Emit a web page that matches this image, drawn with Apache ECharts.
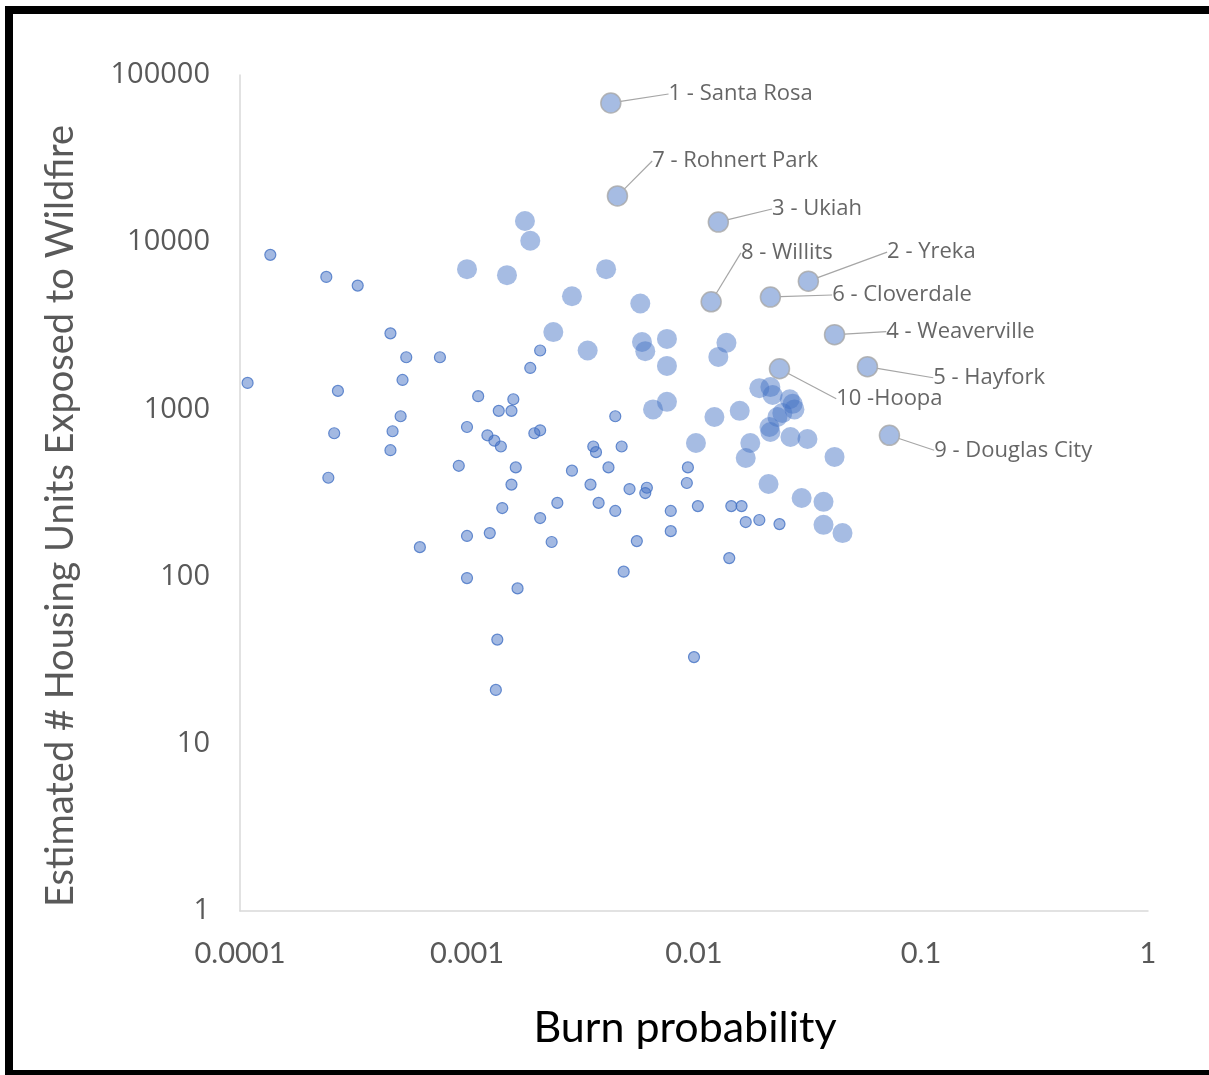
<!DOCTYPE html>
<html>
<head>
<meta charset="utf-8">
<title>Burn probability vs housing units</title>
<script src="https://cdn.jsdelivr.net/npm/echarts@6/dist/echarts.min.js"></script>
<style>
    html, body { margin: 0; padding: 0; background: #fff; }
    #main { width: 1209px; height: 1075px; }
</style>
</head>
<body>
<div id="main"></div>
<script>
    // tick labels
    var xTickLabels = ['0.0001', '0.001', '0.01', '0.1', '1'];
    var yTickLabels = ['1', '10', '100', '1000', '10000', '100000'];

    // small communities (small markers)
    var smallX = [0.000136, 0.00024, 0.00033, 0.00046, 0.00054, 0.00076, 0.0019, 0.000108, 0.00052, 0.00027,
        0.00112, 0.0016, 0.00138, 0.00157, 0.00051, 0.001, 0.00026, 0.00047, 0.00123, 0.00132,
        0.00141, 0.00046, 0.00092, 0.00164, 0.000245, 0.00157, 0.00143, 0.0021, 0.00198, 0.0021,
        0.0045, 0.0036, 0.0037, 0.0048, 0.0029, 0.0042, 0.0094, 0.0035, 0.0093, 0.0052,
        0.0062, 0.0061, 0.0025, 0.0038, 0.0021, 0.0045, 0.0079, 0.0104, 0.0146, 0.0162,
        0.0169, 0.0194, 0.0238, 0.001, 0.00126, 0.00236, 0.0056, 0.0079, 0.00062, 0.0143,
        0.001, 0.00167, 0.0049, 0.00136, 0.01, 0.00134];
    var smallY = [8400, 6200, 5500, 2850, 2050, 2050, 1770, 1440, 1500, 1290,
        1200, 1150, 980, 980, 910, 785, 720, 740, 700, 650,
        600, 570, 460, 450, 390, 355, 257, 2250, 720, 750,
        910, 600, 555, 600, 430, 450, 450, 355, 363, 334,
        340, 316, 276, 276, 224, 247, 247, 264, 264, 264,
        212, 218, 206, 175, 182, 161, 163, 187, 150, 129,
        98, 85, 107, 42, 33, 21];

    // larger communities (big markers)
    var bigX = [0.0018, 0.0019, 0.001, 0.0015, 0.0041, 0.0029, 0.0058, 0.0024, 0.0034, 0.0059,
        0.0061, 0.0076, 0.0076, 0.0139, 0.0128, 0.0066, 0.0076, 0.0102, 0.0123, 0.0159,
        0.0177, 0.0169, 0.0213, 0.0194, 0.0217, 0.0222, 0.0264, 0.0272, 0.0277, 0.0245,
        0.0233, 0.0215, 0.0217, 0.0266, 0.0316, 0.0416, 0.0298, 0.0372, 0.0372, 0.0451];
    var bigY = [13400, 10200, 6900, 6350, 6900, 4750, 4300, 2900, 2250, 2530,
        2230, 2640, 1820, 2500, 2060, 1000, 1110, 630, 900, 980,
        630, 512, 358, 1340, 1360, 1220, 1150, 1080, 1000, 950,
        900, 785, 733, 684, 665, 520, 295, 280, 204, 182];

    // top 10 named communities
    var cityNames = ['1 - Santa Rosa', '7 - Rohnert Park', '3 - Ukiah', '8 - Willits', '2 - Yreka',
        '6 - Cloverdale', '4 - Weaverville', '5 - Hayfork', '10 -Hoopa', '9 - Douglas City'];
    var cityX = [0.0043, 0.0046, 0.0128, 0.0119, 0.0319, 0.0217, 0.0416, 0.0581, 0.0238, 0.0726];
    var cityY = [68000, 18900, 13200, 4400, 5850, 4700, 2800, 1800, 1750, 700];

    // label offsets (px) from the marker
    var labelOffsets = [[47, -9], [24, -35], [43, -13], [19, -49], [68, -29],
        [51, -2], [41, -3], [55, 11], [46, 30], [34, 15]];

    function pairs(xs, ys){
        var arr = [];
        for(var i = 0; i < xs.length; i++){
            arr.push([xs[i], ys[i]]);
        }
        return arr;
    }

    var cityData = [];
    for(var i = 0; i < cityNames.length; i++){
        cityData.push({name: cityNames[i], value: [cityX[i], cityY[i]]});
    }

    var myChart = echarts.init(document.getElementById('main'));
    var option = {
        animation: false,
        backgroundColor: '#fff',
        grid: {
            left: 240,
            right: 61,
            top: 75,
            bottom: 164
        },
        graphic: [
            // black frame around the picture
            {type: 'rect', shape: {x: 5, y: 6, width: 1204, height: 8}, style: {fill: '#000'}},
            {type: 'rect', shape: {x: 5, y: 6, width: 8, height: 1069}, style: {fill: '#000'}},
            {type: 'rect', shape: {x: 5, y: 1070, width: 1204, height: 5}, style: {fill: '#000'}}
        ],
        xAxis: {
            type: 'log',
            logBase: 10,
            min: 0.0001,
            max: 1,
            name: 'Burn probability',
            nameLocation: 'middle',
            nameGap: 96,
            nameTextStyle: {
                color: '#000',
                fontSize: 43,
                fontFamily: 'Lato',
                padding: [0, 18, 0, 0]
            },
            axisLine: {
                lineStyle: {color: '#D9D9D9', width: 1.5}
            },
            axisTick: {show: false},
            splitLine: {show: false},
            axisLabel: {
                color: '#595959',
                fontSize: 29,
                fontFamily: 'Lato',
                margin: 28,
                formatter: function(v){
                    return xTickLabels[Math.round(Math.log10(v)) + 4];
                }
            }
        },
        yAxis: {
            type: 'log',
            logBase: 10,
            min: 1,
            max: 100000,
            name: 'Estimated # Housing Units Exposed to Wildfire',
            nameLocation: 'middle',
            nameGap: 160,
            nameTextStyle: {
                color: '#595959',
                fontSize: 38,
                fontFamily: 'Lato',
                padding: [0, 46, 0, 0]
            },
            axisLine: {
                show: true,
                lineStyle: {color: '#D9D9D9', width: 1.5}
            },
            axisTick: {show: false},
            splitLine: {show: false},
            axisLabel: {
                color: '#595959',
                fontSize: 29,
                fontFamily: 'Open Sans',
                margin: 30,
                formatter: function(v){
                    return yTickLabels[Math.round(Math.log10(v))];
                }
            }
        },
        series: [{
            type: 'scatter',
            data: pairs(smallX, smallY),
            symbolSize: 11,
            itemStyle: {
                color: 'rgba(68,114,196,0.62)',
                borderColor: '#4472C4',
                borderWidth: 1.2
            }
        }, {
            type: 'scatter',
            data: pairs(bigX, bigY),
            symbolSize: 20,
            itemStyle: {
                color: 'rgba(68,114,196,0.6)'
            }
        }, {
            type: 'scatter',
            data: cityData,
            symbolSize: 20,
            itemStyle: {
                color: 'rgba(68,114,196,0.6)',
                borderColor: '#A6A6A6',
                borderWidth: 1.5
            },
            label: {
                show: true,
                position: 'right',
                distance: 0,
                formatter: '{b}',
                color: '#404040',
                fontSize: 22,
                fontFamily: 'Open Sans'
            },
            labelLine: {
                show: true,
                lineStyle: {color: '#A6A6A6', width: 1.2}
            },
            labelLayout: function(params){
                var o = labelOffsets[params.dataIndex];
                return {dx: o[0], dy: o[1]};
            }
        }]
    };
    myChart.setOption(option);
</script>
</body>
</html>
